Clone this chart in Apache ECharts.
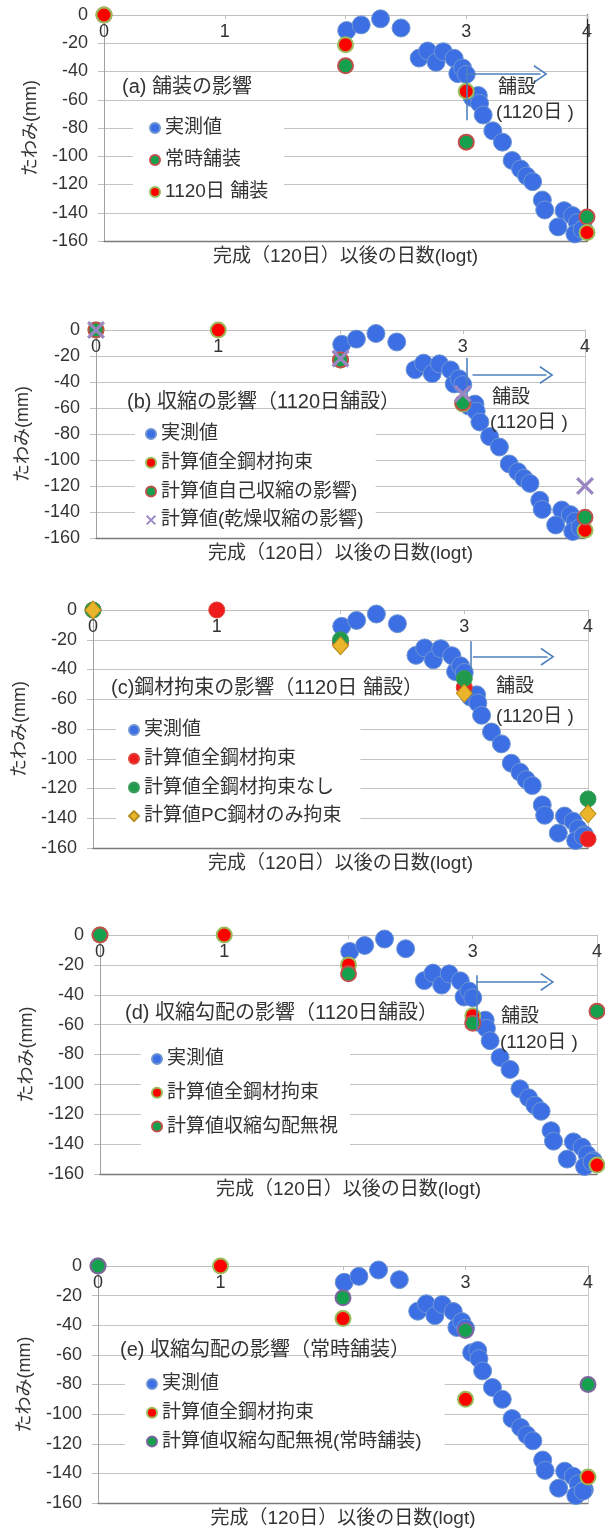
<!DOCTYPE html>
<html><head><meta charset="utf-8">
<script src="https://cdn.jsdelivr.net/npm/echarts@6/dist/echarts.min.js"></script>
<style>html,body{margin:0;padding:0;background:#fff}#c{width:605px;height:1531px}</style>
</head><body><div id="c"></div>
<script>
// ---------- data ----------
const xMin = 0, xMax = 4, xStep = 1;
const yMin = -160, yMax = 0, yStep = 20;
const xAxisTitle = '完成（120日）以後の日数(logt)';
const yAxisTitle = 'たわみ(mm)';

// measured deflection (実測値), same in every panel
const measX = [2.01, 2.13, 2.29, 2.46, 2.61, 2.68, 2.75, 2.81, 2.90, 2.93, 2.97, 3.00, 3.05, 3.10, 3.11, 3.14, 3.22, 3.30, 3.38, 3.45, 3.50, 3.55, 3.63, 3.65, 3.81, 3.88, 3.76, 3.92, 3.97, 3.90, 3.96];
const measY = [-11, -7, -2.7, -9.2, -30.5, -25.5, -33.5, -26, -30.7, -41.5, -37.5, -42, -58.5, -57, -62.5, -70.8, -82, -90, -103, -109, -114, -118, -131, -138, -138.5, -142, -150, -147, -151, -155, -152];

// (a)
const aTitle = '(a) 舗装の影響';
const aConstX = [0, 2, 3, 4], aConstY = [0, -36, -90, -143];
const a1120X = [0, 2, 3, 4], a1120Y = [0, -21, -54, -154];
// (b)
const bTitle = '(b) 収縮の影響（1120日舗設）';
const bAllX = [0, 1, 2, 3, 4], bAllY = [0, 0, -23, -57, -154];
const bAutoX = [0, 2, 3, 4], bAutoY = [0, -23, -56, -144];
const bDryX = [0, 2, 3, 4], bDryY = [0, -22, -49, -120];
// (c)
const cTitle = '(c)鋼材拘束の影響（1120日 舗設）';
const cAllX = [0, 1, 2, 3, 4], cAllY = [0, 0, -22, -52, -154];
const cNoneX = [0, 2, 3, 4], cNoneY = [0, -20, -46, -127];
const cPcX = [0, 2, 3, 4], cPcY = [0, -24, -56, -137];
// (d)
const dTitle = '(d) 収縮勾配の影響（1120日舗設）';
const dAllX = [0, 1, 2, 3, 4], dAllY = [0, 0, -20, -54, -154];
const dIgnX = [0, 2, 3, 4], dIgnY = [0, -26, -59, -51];
// (e)
const eTitle = '(e) 収縮勾配の影響（常時舗装）';
const eAllX = [0, 1, 2, 3, 4], eAllY = [0, 0, -35.5, -90, -142.5];
const eIgnX = [0, 2, 3, 4], eIgnY = [0, -21.5, -43.5, -80];

// paving arrow (data coords): [xStart, y, xEnd] and vertical [x, yTop, yBottom]
const arrowH = [[3.0, -41.8, 3.615], [3.08, -34.6, 3.685], [3.07, -31.4, 3.673], [3.03, -31.4, 3.60], null];
const arrowV = [[3.0, -35, -74.5], [3.03, -21.5, -51.5], [3.05, -21, -40.5], [3.03, -27, -64], null];
const paveText1 = '舗設', paveText2 = '(1120日 )';

// ---------- layout / styles ----------
const FONT = "'Liberation Sans','Noto Sans CJK JP',sans-serif";
const TXT = '#333';
const grids = [
  {left: 104, top: 15, width: 483, height: 226},
  {left: 96, top: 330, width: 489, height: 208},
  {left: 93, top: 610, width: 495, height: 238},
  {left: 100, top: 935, width: 498, height: 239},
  {left: 98, top: 1266, width: 490, height: 237}
];
const rightLineColor = ['#222', '#c8c8c8', '#c8c8c8', '#c8c8c8', '#c8c8c8'];
const legendPos = [
  {left: 133, top: 110, padding: [8, 16, 8, 16], itemGap: 12},
  {left: 135, top: 420, padding: [4, 12, 4, 10], itemGap: 8.7},
  {left: 116, top: 715, padding: [5, 19, 5, 12], itemGap: 8.7},
  {left: 141, top: 1039, padding: [10, 12, 10, 10], itemGap: 13.8},
  {left: 125, top: 1366, padding: [8, 23, 8, 21], itemGap: 8.8}
];
const titlePos = [[122, 87], [127, 402], [111, 688], [125, 1013], [120, 1350]];
const pavePos = [[[498, 88], [496, 113]], [[492, 398], [490, 423]], [[496, 687], [496, 717]], [[501, 1017], [500, 1043]], null];

const sBlue = {color: '#3b6fe3', borderColor: '#7095d2', borderWidth: 1};
const sRedO = {color: '#ff0000', borderColor: '#9bbb59', borderWidth: 2};
const sGreenR = {color: '#14a04c', borderColor: '#c0504d', borderWidth: 2};
const sGreenP = {color: '#14a04c', borderColor: '#8064a2', borderWidth: 2};
const sRedC = {color: '#ee1c1c', borderColor: '#e0433a', borderWidth: 1};
const sGreenC = {color: '#20994c', borderColor: '#3a9d5c', borderWidth: 1};
const sGold = {color: '#eab52a', borderColor: '#b58c1e', borderWidth: 1};
const sX = {color: '#9a86c2'};
const X_SYMBOL = 'path://M0,1.3 L1.3,0 L10,8.7 L8.7,10 Z M8.7,0 L10,1.3 L1.3,10 L0,8.7 Z';
const CHEVRON = 'path://M10,0 L20,15 L18.4,16 L10,3.2 L1.6,16 L0,15 Z';

const zip = (xs, ys) => xs.map((x, i) => [x, ys[i]]);

const BLUE = 18, CALC = 15;
const panels = [
  {title: aTitle, series: [
    {name: '実測値', x: measX, y: measY, st: sBlue, size: BLUE},
    {name: '常時舗装', x: aConstX, y: aConstY, st: sGreenR, size: CALC},
    {name: '1120日 舗装', x: a1120X, y: a1120Y, st: sRedO, size: CALC}]},
  {title: bTitle, series: [
    {name: '実測値', x: measX, y: measY, st: sBlue, size: BLUE},
    {name: '計算値全鋼材拘束', x: bAllX, y: bAllY, st: sRedO, size: CALC},
    {name: '計算値自己収縮の影響)', x: bAutoX, y: bAutoY, st: sGreenR, size: CALC},
    {name: '計算値(乾燥収縮の影響)', x: bDryX, y: bDryY, st: sX, size: 18, symbol: X_SYMBOL}]},
  {title: cTitle, series: [
    {name: '実測値', x: measX, y: measY, st: sBlue, size: BLUE},
    {name: '計算値全鋼材拘束 ', x: cAllX, y: cAllY, st: sRedC, size: 16},
    {name: '計算値全鋼材拘束なし', x: cNoneX, y: cNoneY, st: sGreenC, size: 16},
    {name: '計算値PC鋼材のみ拘束', x: cPcX, y: cPcY, st: sGold, size: [16, 18], symbol: 'diamond'}]},
  {title: dTitle, series: [
    {name: '実測値', x: measX, y: measY, st: sBlue, size: BLUE},
    {name: '計算値全鋼材拘束', x: dAllX, y: dAllY, st: sRedO, size: CALC},
    {name: '計算値収縮勾配無視', x: dIgnX, y: dIgnY, st: sGreenR, size: CALC}]},
  {title: eTitle, series: [
    {name: '実測値', x: measX, y: measY, st: sBlue, size: BLUE},
    {name: '計算値全鋼材拘束', x: eAllX, y: eAllY, st: sRedO, size: CALC},
    {name: '計算値収縮勾配無視(常時舗装)', x: eIgnX, y: eIgnY, st: sGreenP, size: CALC}]}
];

const option = {animation: false, backgroundColor: '#fff', grid: [], xAxis: [], yAxis: [], legend: [], series: [], graphic: []};

panels.forEach((p, i) => {
  option.grid.push(grids[i]);
  // top axis with tick labels (crosses at 0)
  option.xAxis.push({
    type: 'value', gridIndex: i, min: xMin, max: xMax, interval: xStep, position: 'top', z: 1,
    axisLine: {show: true, onZero: false, lineStyle: {color: '#bfbfbf', width: 1}},
    axisTick: {show: true, inside: true, length: 4, lineStyle: {color: '#bfbfbf'}},
    axisLabel: {inside: true, margin: 8, fontSize: 18, color: TXT, fontFamily: FONT},
    splitLine: {show: false}
  });
  // bottom axis line + title
  option.xAxis.push({
    type: 'value', gridIndex: i, min: xMin, max: xMax, interval: xStep, position: 'bottom', z: 1,
    axisLine: {show: true, onZero: false, lineStyle: {color: '#7a7a7a', width: 1.3}},
    axisTick: {show: false}, axisLabel: {show: false}, splitLine: {show: false},
    name: xAxisTitle, nameLocation: 'middle', nameGap: 6,
    nameTextStyle: {fontSize: 19, color: TXT, fontFamily: FONT}
  });
  option.yAxis.push({
    type: 'value', gridIndex: i, min: yMin, max: yMax, interval: yStep, position: 'left',
    axisLine: {show: true, onZero: false, lineStyle: {color: '#a0a0a0'}},
    axisTick: {show: true, length: 6, lineStyle: {color: '#bfbfbf'}},
    axisLabel: {fontSize: 18, color: TXT, fontFamily: FONT, margin: 16},
    splitLine: {show: true, lineStyle: {color: '#c4c4c4', width: 1}},
    name: yAxisTitle, nameLocation: 'middle', nameRotate: 90, nameGap: 64,
    nameTextStyle: {fontSize: 18, color: TXT, fontFamily: FONT}
  });
  option.yAxis.push({
    type: 'value', gridIndex: i, min: yMin, max: yMax, interval: yStep, position: 'right', z: 1,
    axisLine: {show: true, onZero: false, lineStyle: {color: rightLineColor[i], width: i === 0 ? 1.3 : 1}},
    axisTick: {show: false}, axisLabel: {show: false}, splitLine: {show: false}
  });
  option.legend.push(Object.assign({
    orient: 'vertical', backgroundColor: '#fff', borderWidth: 0,
    itemWidth: 10, itemHeight: 10, selectedMode: false,
    data: p.series.map(s => ({name: s.name, icon: s.symbol || 'circle'})),
    textStyle: {fontSize: 19, lineHeight: 20, color: TXT, fontFamily: FONT}
  }, legendPos[i]));
  p.series.forEach((s, k) => {
    const ser = {
      type: 'scatter', name: s.name, xAxisIndex: i * 2, yAxisIndex: i * 2,
      data: zip(s.x, s.y), symbol: s.symbol || 'circle', symbolSize: s.size,
      itemStyle: Object.assign({opacity: 1}, s.st), clip: false, z: 2 + k,
      emphasis: {disabled: true}
    };
    if (k === 0 && arrowH[i]) {
      const h = arrowH[i], v = arrowV[i];
      ser.markLine = {
        silent: true, animation: false, symbol: ['none', 'none'],
        lineStyle: {color: '#4f81bd', width: 1.6, type: 'solid'},
        label: {show: false}, emphasis: {disabled: true},
        data: [
          [{coord: [h[0], h[1]], symbol: 'none'}, {coord: [h[2], h[1]], symbol: CHEVRON, symbolSize: [18, 14]}],
          [{coord: [v[0], v[1]], symbol: 'none'}, {coord: [v[0], v[2]], symbol: 'none'}]
        ]
      };
    }
    option.series.push(ser);
  });
  option.graphic.push({type: 'text', x: titlePos[i][0], y: titlePos[i][1], z: 10,
    style: {text: p.title, fontSize: 20, fontFamily: FONT, fill: TXT, verticalAlign: 'middle'}});
  if (pavePos[i]) {
    option.graphic.push({type: 'text', x: pavePos[i][0][0], y: pavePos[i][0][1], z: 10,
      style: {text: paveText1, fontSize: 19, fontFamily: FONT, fill: TXT, verticalAlign: 'middle'}});
    option.graphic.push({type: 'text', x: pavePos[i][1][0], y: pavePos[i][1][1], z: 10,
      style: {text: paveText2, fontSize: 19, fontFamily: FONT, fill: TXT, verticalAlign: 'middle'}});
  }
});

const chart = echarts.init(document.getElementById('c'), null, {renderer: 'canvas'});
chart.setOption(option);
</script></body></html>
